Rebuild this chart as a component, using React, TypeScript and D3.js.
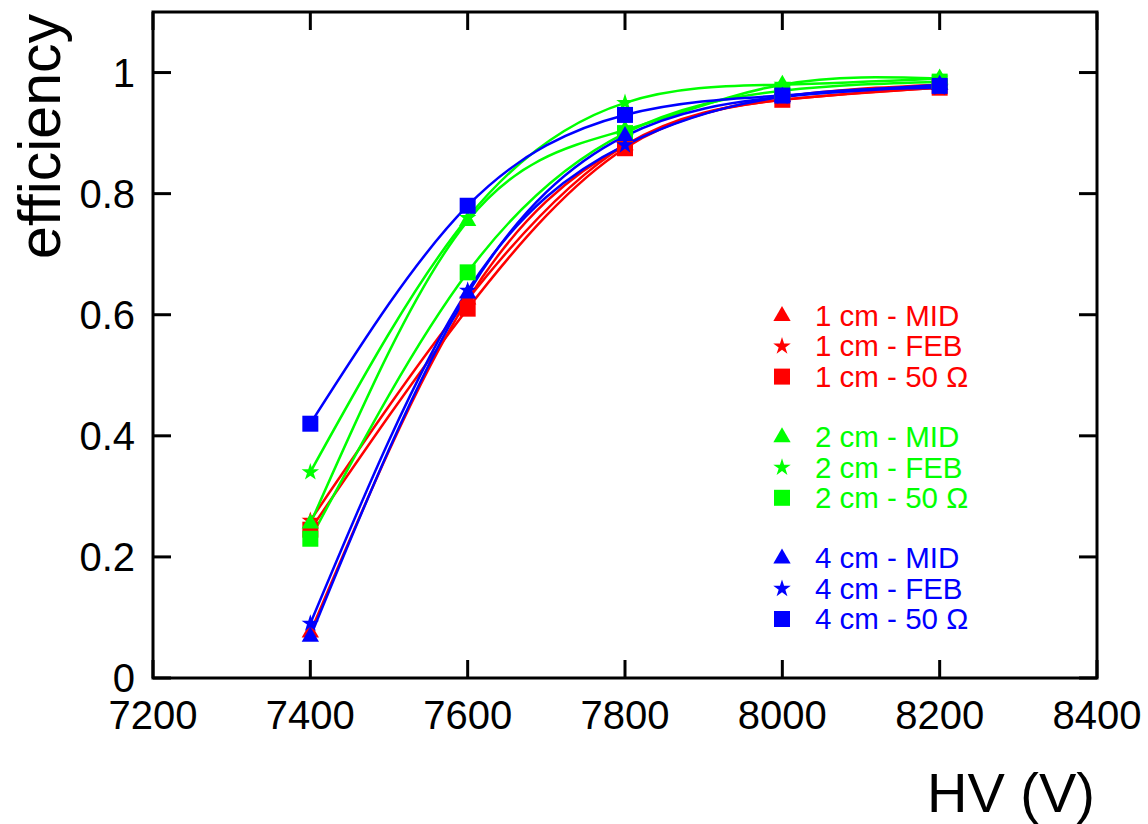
import * as d3 from 'd3';

// HV scan points
const hv = [7400, 7600, 7800, 8000, 8200];

// efficiency per configuration (gap - readout)
const red1MID = [0.075, 0.625, 0.88, 0.96, 0.98];
const red1FEB = [0.26, 0.625, 0.88, 0.955, 0.975];
const red1Ohm = [0.245, 0.61, 0.875, 0.955, 0.975];
const green2MID = [0.255, 0.755, 0.905, 0.98, 0.99];
const green2FEB = [0.34, 0.76, 0.95, 0.98, 0.99];
const green2Ohm = [0.23, 0.67, 0.9, 0.97, 0.985];
const blue4MID = [0.068, 0.635, 0.895, 0.96, 0.98];
const blue4FEB = [0.09, 0.64, 0.88, 0.96, 0.975];
const blue4Ohm = [0.42, 0.78, 0.93, 0.962, 0.978];

const legendLabels = [
  '1 cm - MID', '1 cm - FEB', '1 cm - 50 Ω',
  '2 cm - MID', '2 cm - FEB', '2 cm - 50 Ω',
  '4 cm - MID', '4 cm - FEB', '4 cm - 50 Ω',
];
const xTicks = [7200, 7400, 7600, 7800, 8000, 8200, 8400];
const yTicks = [0, 0.2, 0.4, 0.6, 0.8, 1];

const series = [
  { label: legendLabels[0], color: '#ff0000', shape: 'triangle', values: red1MID },
  { label: legendLabels[1], color: '#ff0000', shape: 'star', values: red1FEB },
  { label: legendLabels[2], color: '#ff0000', shape: 'square', values: red1Ohm },
  { label: legendLabels[3], color: '#00ff00', shape: 'triangle', values: green2MID },
  { label: legendLabels[4], color: '#00ff00', shape: 'star', values: green2FEB },
  { label: legendLabels[5], color: '#00ff00', shape: 'square', values: green2Ohm },
  { label: legendLabels[6], color: '#0000ff', shape: 'triangle', values: blue4MID },
  { label: legendLabels[7], color: '#0000ff', shape: 'star', values: blue4FEB },
  { label: legendLabels[8], color: '#0000ff', shape: 'square', values: blue4Ohm },
];

const W = 1148;
const H = 824;
const margin = { top: 12, right: 51, bottom: 146, left: 153 };
const font = '"Liberation Sans", Arial, sans-serif';

const symbolPath = (shape: string) => {
  if (shape === 'triangle') return d3.symbol(d3.symbolTriangle, 130)()!;
  if (shape === 'star') return d3.symbol(d3.symbolStar, 95)()!;
  return d3.symbol(d3.symbolSquare, 256)()!;
};

export default function App() {
  const x = d3.scaleLinear().domain([7200, 8400]).range([margin.left, W - margin.right]);
  const y = d3.scaleLinear().domain([0, 1.1]).range([H - margin.bottom, margin.top]);
  const tick = 18;

  const line = d3
    .line<number>()
    .x((_, i) => x(hv[i]))
    .y((d) => y(d))
    .curve(d3.curveNatural);

  return (
    <svg width={W} height={H} style={{ position: 'absolute', left: 0, top: 0, background: '#fff' }}>
      {/* curves */}
      {series.map((s) => (
        <path key={'l' + s.label} d={line(s.values)!} fill="none" stroke={s.color} strokeWidth={2.5} />
      ))}
      {/* markers */}
      {series.map((s) =>
        s.values.map((v, i) => (
          <path
            key={s.label + i}
            d={symbolPath(s.shape)}
            transform={`translate(${x(hv[i])},${y(v)})`}
            fill={s.color}
          />
        ))
      )}

      {/* frame and ticks */}
      <rect
        x={margin.left}
        y={margin.top}
        width={W - margin.left - margin.right}
        height={H - margin.top - margin.bottom}
        fill="none"
        stroke="#000"
        strokeWidth={3}
      />
      {yTicks.map((t) => (
        <g key={'y' + t}>
          <line x1={margin.left} x2={margin.left + tick} y1={y(t)} y2={y(t)} stroke="#000" strokeWidth={3} />
          <line x1={W - margin.right} x2={W - margin.right - tick} y1={y(t)} y2={y(t)} stroke="#000" strokeWidth={3} />
          <text x={135} y={y(t)} dy="0.36em" textAnchor="end" fontSize={40} fontFamily={font}>
            {t === 0 || t === 1 ? String(t) : t.toFixed(1)}
          </text>
        </g>
      ))}
      {xTicks.map((t) => (
        <g key={'x' + t}>
          <line x1={x(t)} x2={x(t)} y1={H - margin.bottom} y2={H - margin.bottom - tick} stroke="#000" strokeWidth={3} />
          <line x1={x(t)} x2={x(t)} y1={margin.top} y2={margin.top + tick} stroke="#000" strokeWidth={3} />
          <text x={x(t)} y={729} textAnchor="middle" fontSize={40} fontFamily={font}>
            {t}
          </text>
        </g>
      ))}

      {/* axis titles */}
      <text transform="translate(60,14) rotate(-90)" textAnchor="end" fontSize={59} fontFamily={font}>
        efficiency
      </text>
      <text x={1095} y={812} textAnchor="end" fontSize={56} fontFamily={font}>
        HV (V)
      </text>

      {/* legend */}
      {series.map((s, i) => {
        const row = i + Math.floor(i / 3);
        const yy = 326 + row * 30.3;
        return (
          <g key={'lg' + s.label}>
            <path d={symbolPath(s.shape)} transform={`translate(782,${yy - 10})`} fill={s.color} />
            <text x={815} y={yy} fontSize={29.5} fontFamily={font} fill={s.color}>
              {s.label}
            </text>
          </g>
        );
      })}
    </svg>
  );
}
